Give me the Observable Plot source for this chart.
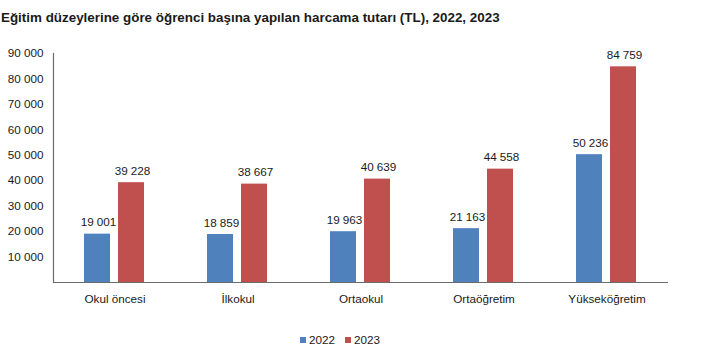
<!DOCTYPE html>
<html>
<head>
<meta charset="utf-8">
<script src="https://cdn.jsdelivr.net/npm/d3@7"></script>
<script src="https://cdn.jsdelivr.net/npm/@observablehq/plot@0.6"></script>
<style>
  html, body { margin: 0; padding: 0; background: #fff; }
  body { width: 720px; height: 357px; overflow: hidden; font-family: "Liberation Sans", Arial, sans-serif; }
  #title { height: 30px; padding: 10px 0 0 1px; font-weight: bold; font-size: 13.4px; line-height: 16px; color: #1a1a1a; white-space: nowrap; }
  #legend { margin-top: 21px; padding-left: 300px; }
  .lg-swatches { font-family: "Liberation Sans", Arial, sans-serif !important; font-size: 11.7px !important; color: #1a1a1a !important; min-height: 0 !important; margin: 0 !important; }
  .lg-swatch { margin-right: 10px !important; }
  .lg-swatch > svg { margin-right: 3px !important; }
</style>
</head>
<body>
<div id="title">Eğitim düzeylerine göre öğrenci başına yapılan harcama tutarı (TL), 2022, 2023</div>
<div id="chart"></div>
<div id="legend"></div>
<script>
const categories = ["Okul öncesi", "İlkokul", "Ortaokul", "Ortaöğretim", "Yükseköğretim"];
const years = ["2022", "2023"];
const values2022 = [19001, 18859, 19963, 21163, 50236];
const values2023 = [39228, 38667, 40639, 44558, 84759];
const yTicks = [10000, 20000, 30000, 40000, 50000, 60000, 70000, 80000, 90000];
const colors = ["#4f81bd", "#c0504d"];

const rows = [];
categories.forEach((c, i) => {
  rows.push({category: c, year: years[0], value: values2022[i]});
  rows.push({category: c, year: years[1], value: values2023[i]});
});

const fmt = v => d3.format(",")(v).replace(/,/g, " ");
const font = '"Liberation Sans", Arial, sans-serif';

const plot = Plot.plot({
  width: 720,
  height: 272,
  marginTop: 13,
  marginBottom: 30,
  marginLeft: 53,
  marginRight: 52,
  style: {fontFamily: font, fontSize: "11.7px", color: "#1a1a1a", background: "#fff"},
  fx: {domain: categories, padding: 0},
  x: {domain: years, paddingInner: 0.23, paddingOuter: 0.885},
  y: {domain: [0, 90000]},
  color: {domain: years, range: colors},
  marks: [
    Plot.barY(rows, {fx: "category", x: "year", y: "value", fill: "year"}),
    Plot.text(rows, {fx: "category", x: "year", y: "value", text: d => fmt(d.value), dy: -8, dx: 1, lineAnchor: "bottom", fill: "#1a1a1a", fontSize: 11.7}),
    Plot.ruleY([0], {stroke: "#6b6b6b", strokeWidth: 1.2}),
    Plot.frame({anchor: "left", facetAnchor: "left", stroke: "#6b6b6b", strokeWidth: 1.2}),
    Plot.axisY({ticks: yTicks, tickFormat: fmt, tickSize: 0, tickPadding: 10, label: null, fontSize: 11.7}),
    Plot.axisX({ticks: [], label: null}),
    Plot.axisFx({anchor: "bottom", tickSize: 0, tickPadding: 12, label: null, fontSize: 11.7})
  ]
});
document.getElementById("chart").appendChild(plot);
document.getElementById("legend").appendChild(plot.legend("color", {swatchSize: 6, className: "lg"}));
</script>
</body>
</html>
